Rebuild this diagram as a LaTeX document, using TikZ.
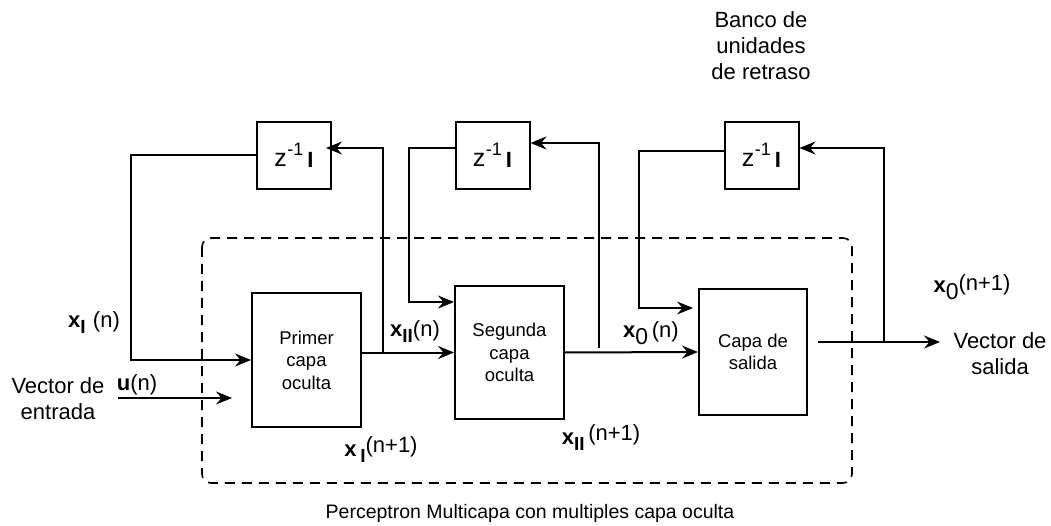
\documentclass[tikz,border=0pt]{standalone}
\usepackage{fontspec}
\setmainfont{Liberation Sans}
\usetikzlibrary{arrows.meta}
\newcommand{\zlab}{\fontsize{25}{25}\selectfont z\kern0.5pt\raisebox{0.42em}{\fontsize{18}{18}\selectfont -1}\kern4pt\raisebox{-1pt}{\bfseries\fontsize{22}{22}\selectfont I}}
\newcommand{\subI}[1]{\raisebox{-6pt}{\bfseries\fontsize{19}{19}\selectfont #1}}
\begin{document}
\begin{tikzpicture}[x=1pt,y=-1pt,
  font=\fontsize{22}{26}\selectfont,
  ln/.style={line width=2pt},
  arr/.style={ln,-{Stealth[length=16pt,width=13pt,inset=5.5pt]}},
  blk/.style={draw,line width=2pt,inner sep=0pt,align=center,font=\fontsize{18.5}{22.5}\selectfont},
  zbox/.style={draw,line width=2pt,minimum width=74pt,minimum height=67pt,inner sep=0pt},
  lbl/.style={inner sep=0pt,align=center}]
\useasboundingbox (0,0) rectangle (1051,526);
% dashed frame
\draw[dash pattern=on 10pt off 7pt,line width=1.6pt,rounded corners=9pt] (202,238) rectangle (852,483);
% blocks
\node[blk,minimum width=109pt,minimum height=134pt] (p1) at (306.5,360) {Primer\\capa\\oculta};
\node[blk,minimum width=109pt,minimum height=133pt] (p2) at (509.5,352.5) {Segunda\\capa\\oculta};
\node[blk,minimum width=108pt,minimum height=126pt] (p3) at (753,352) {Capa de\\salida};
\node[zbox] (z1) at (294,155.5) {\zlab};
\node[zbox] (z2) at (492.5,155.5) {\zlab};
\node[zbox] (z3) at (761.5,155.5) {\zlab};
% coordinates
\coordinate (uin) at (118,398);
\coordinate (uend) at (232,398);
\coordinate (t1) at (383,352.5);
\coordinate (t2) at (599,348);
\coordinate (j3) at (884,342);
\coordinate (out) at (940,342);
% connectors
\draw[arr] (z1.west) -- ++(-125,0) |- (p1.west);
\draw[arr] (uin) -- (uend);
\draw[arr] (p1.east |- p2.west) -- (p2.west);
\draw[arr] (t1) |- ([xshift=-6pt,yshift=7.5pt]z1.east);
\draw[arr] ([yshift=7.5pt]z2.west) -- ++(-46,0) |- ([yshift=50.5pt]p2.west);
\draw[arr] (t2) |- ([yshift=12.5pt]z2.east);
\draw[arr] (p2.east) -- (p3.west);
\draw[arr] ([yshift=4pt]z3.west) -- ++(-85,0) |- ([xshift=-5pt,yshift=44pt]p3.west);
\draw[arr] ([xshift=10pt,yshift=10pt]p3.east) -- (out);
\draw[arr] (j3) |- ([yshift=7.5pt]z3.east);
% labels
\node[lbl] (lxIn) at (94,323) {\textbf{x}\subI{I}\,\,(n)};
\node[lbl] (lvin) at (58,399) {Vector de\\entrada};
\node[lbl] (lun) at (137,385) {\textbf{u}(n)};
\node[lbl] (lxIn1) at (381,450) {\textbf{x}\,\subI{I}\raisebox{4pt}{(n+1)}};
\node[lbl] (lxIIn) at (415,332) {\textbf{x}\subI{II}(n)};
\node[lbl] (lx0n) at (651,333) {\textbf{x}\raisebox{-7pt}{\fontsize{23}{23}\selectfont 0}\,(n)};
\node[lbl] (lxIIn1) at (601,438) {\textbf{x}\subI{II}\,\raisebox{4pt}{(n+1)}};
\node[lbl] (lx0n1) at (972,287) {\textbf{x}\raisebox{-7pt}{\fontsize{23}{23}\selectfont 0}\raisebox{2pt}{(n+1)}};
\node[lbl] (lvout) at (1000,354) {Vector de\\salida};
\node[lbl] (lbanco) at (761,46) {Banco de\\unidades\\de retraso};
\node[lbl,font=\fontsize{19.5}{22}\selectfont] (ltitle) at (530,513) {Perceptron Multicapa con multiples capa oculta};
\end{tikzpicture}
\end{document}
